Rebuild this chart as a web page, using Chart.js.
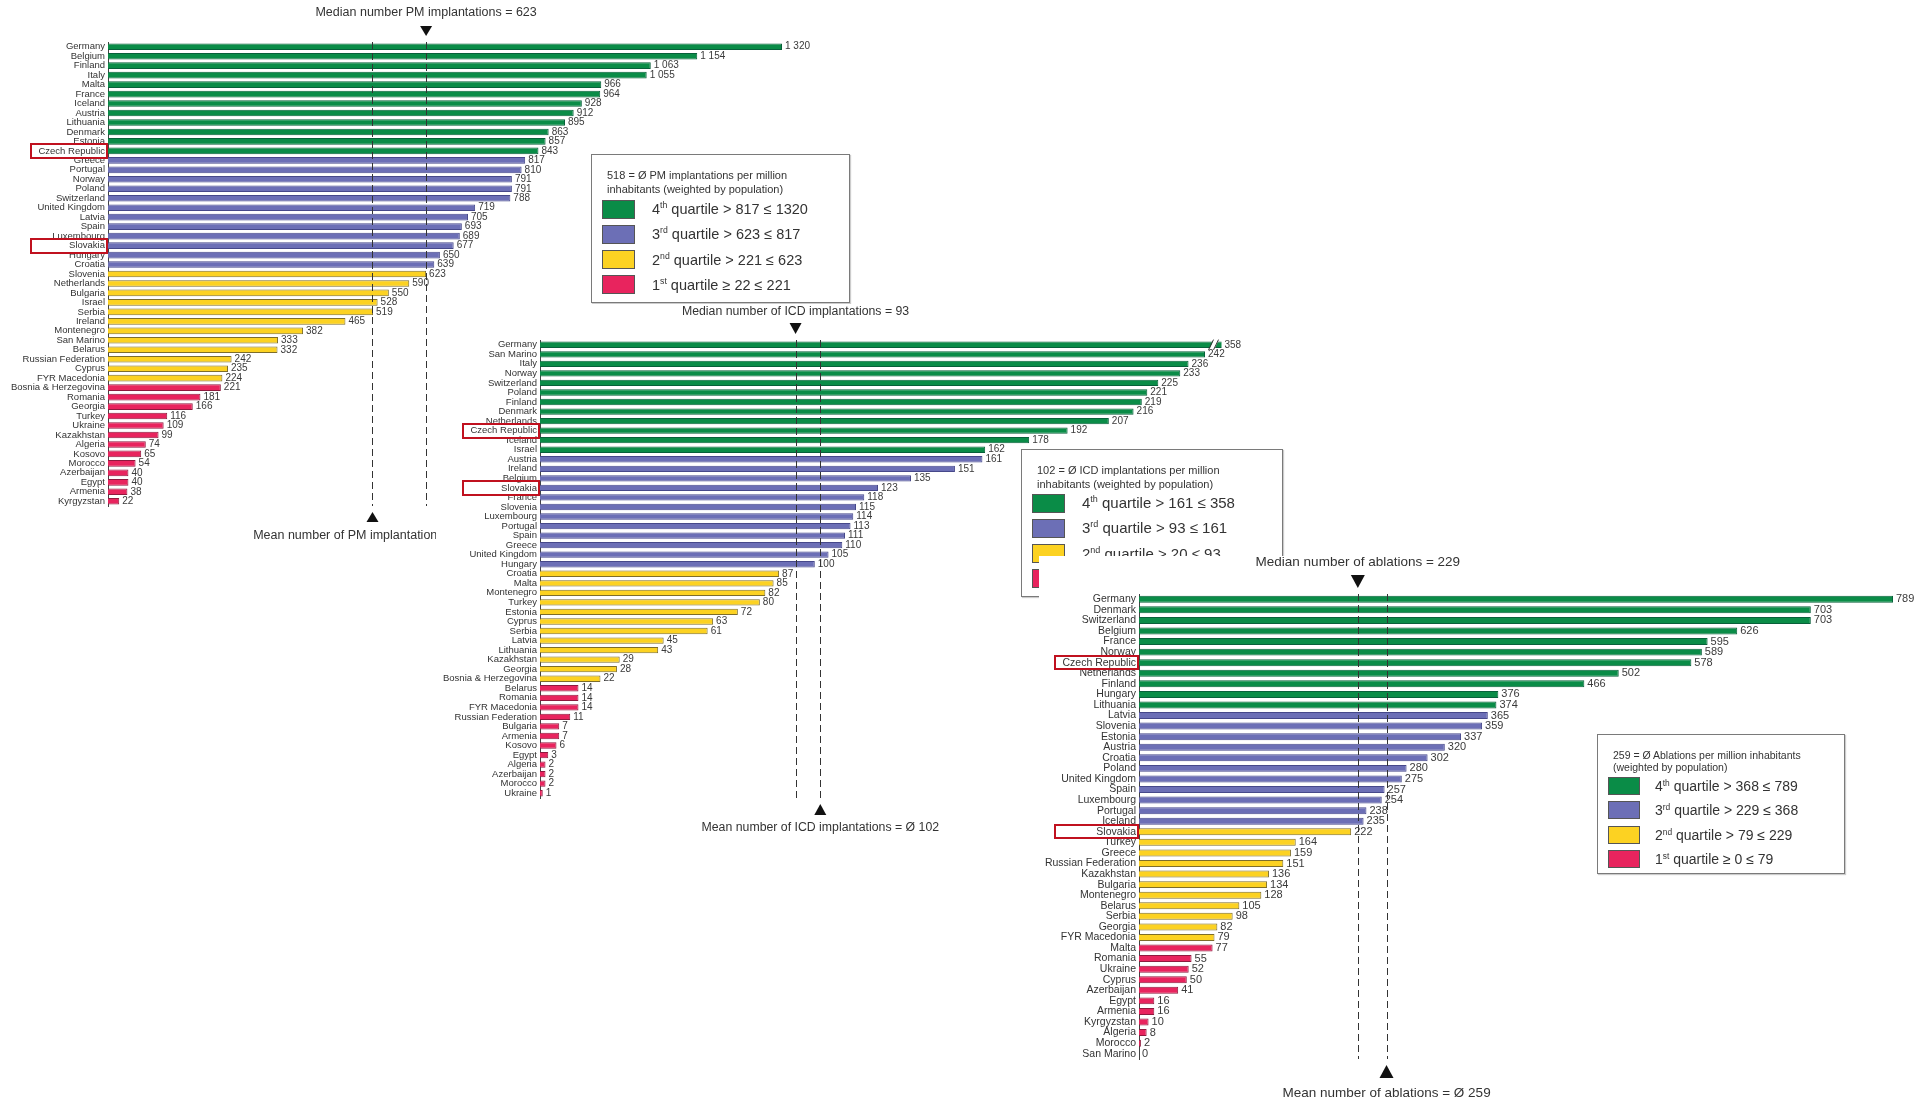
<!DOCTYPE html>
<html>
<head>
<meta charset="utf-8">
<title>PM, ICD and ablation procedures per million inhabitants</title>
<script src="https://cdn.jsdelivr.net/npm/chart.js@4.4.1/dist/chart.umd.min.js"></script>
<style>
  body { margin: 0; background: #fff; font-family: "Liberation Sans", Arial, sans-serif; }
  #stage { position: relative; width: 1915px; height: 1100px; overflow: hidden; background: #fff; }
  canvas { position: absolute; background: #fff; }
  .legend { position: absolute; background: #fff; border: 1px solid #7a7a7a; box-sizing: border-box; color: #333; box-shadow: 1px 1px 1px rgba(0,0,0,0.2); }
  .legend .hdr, .legend .txt { position: absolute; white-space: nowrap; }
  .legend .sw { position: absolute; border: 1px solid #555; box-sizing: border-box; }
  .legend sup { font-size: 0.6em; vertical-align: 0.65em; line-height: 0; }
</style>
</head>
<body>
<div id="stage">
  <canvas id="pmChart" width="840" height="550" style="left:0;top:0;z-index:1"></canvas>
  <div class="legend" id="pmLegend" style="z-index:2"></div>
  <canvas id="icdChart" width="854" height="536" style="left:436px;top:304px;z-index:3"></canvas>
  <div class="legend" id="icdLegend" style="z-index:4"></div>
  <canvas id="ablChart" width="876" height="544" style="left:1039px;top:556px;z-index:5"></canvas>
  <div class="legend" id="ablLegend" style="z-index:6"></div>
</div>
<script>
// PM implantations per million inhabitants
const pmCountries = ["Germany", "Belgium", "Finland", "Italy", "Malta", "France", "Iceland", "Austria",
  "Lithuania", "Denmark", "Estonia", "Czech Republic", "Greece", "Portugal", "Norway", "Poland",
  "Switzerland", "United Kingdom", "Latvia", "Spain", "Luxembourg", "Slovakia", "Hungary", "Croatia",
  "Slovenia", "Netherlands", "Bulgaria", "Israel", "Serbia", "Ireland", "Montenegro", "San Marino",
  "Belarus", "Russian Federation", "Cyprus", "FYR Macedonia", "Bosnia & Herzegovina", "Romania",
  "Georgia", "Turkey", "Ukraine", "Kazakhstan", "Algeria", "Kosovo", "Morocco", "Azerbaijan", "Egypt",
  "Armenia", "Kyrgyzstan"];
const pmValues = [1320, 1154, 1063, 1055, 966, 964, 928, 912, 895, 863, 857, 843, 817, 810, 791, 791,
  788, 719, 705, 693, 689, 677, 650, 639, 623, 590, 550, 528, 519, 465, 382, 333, 332, 242, 235, 224,
  221, 181, 166, 116, 109, 99, 74, 65, 54, 40, 40, 38, 22];
const pmGroups = [12, 12, 12, 13];
const pmMedian = 623;
const pmMean = 518;
const pmLegendHeader = ["518 = Ø PM implantations per million", "inhabitants (weighted by population)"];
const pmLegendRows = ["4<sup>th</sup> quartile &gt; 817 ≤ 1320", "3<sup>rd</sup> quartile &gt; 623 ≤ 817",
  "2<sup>nd</sup> quartile &gt; 221 ≤ 623", "1<sup>st</sup> quartile ≥ 22 ≤ 221"];

// ICD implantations per million inhabitants
const icdCountries = ["Germany", "San Marino", "Italy", "Norway", "Switzerland", "Poland", "Finland",
  "Denmark", "Netherlands", "Czech Republic", "Iceland", "Israel", "Austria", "Ireland", "Belgium",
  "Slovakia", "France", "Slovenia", "Luxembourg", "Portugal", "Spain", "Greece", "United Kingdom",
  "Hungary", "Croatia", "Malta", "Montenegro", "Turkey", "Estonia", "Cyprus", "Serbia", "Latvia",
  "Lithuania", "Kazakhstan", "Georgia", "Bosnia & Herzegovina", "Belarus", "Romania", "FYR Macedonia",
  "Russian Federation", "Bulgaria", "Armenia", "Kosovo", "Egypt", "Algeria", "Azerbaijan", "Morocco",
  "Ukraine"];
const icdValues = [358, 242, 236, 233, 225, 221, 219, 216, 207, 192, 178, 162, 161, 151, 135, 123, 118,
  115, 114, 113, 111, 110, 105, 100, 87, 85, 82, 80, 72, 63, 61, 45, 43, 29, 28, 22, 14, 14, 14, 11, 7,
  7, 6, 3, 2, 2, 2, 1];
const icdGroups = [12, 12, 12, 12];
const icdMedian = 93;
const icdMean = 102;
const icdAxisBreak = 248;
const icdLegendHeader = ["102 = Ø ICD implantations per million", "inhabitants (weighted by population)"];
const icdLegendRows = ["4<sup>th</sup> quartile &gt; 161 ≤ 358", "3<sup>rd</sup> quartile &gt; 93 ≤ 161",
  "2<sup>nd</sup> quartile &gt; 20 ≤ 93", "1<sup>st</sup> quartile ≥ 1 ≤ 20"];

// Ablations per million inhabitants
const ablCountries = ["Germany", "Denmark", "Switzerland", "Belgium", "France", "Norway",
  "Czech Republic", "Netherlands", "Finland", "Hungary", "Lithuania", "Latvia", "Slovenia", "Estonia",
  "Austria", "Croatia", "Poland", "United Kingdom", "Spain", "Luxembourg", "Portugal", "Iceland",
  "Slovakia", "Turkey", "Greece", "Russian Federation", "Kazakhstan", "Bulgaria", "Montenegro",
  "Belarus", "Serbia", "Georgia", "FYR Macedonia", "Malta", "Romania", "Ukraine", "Cyprus",
  "Azerbaijan", "Egypt", "Armenia", "Kyrgyzstan", "Algeria", "Morocco", "San Marino"];
const ablValues = [789, 703, 703, 626, 595, 589, 578, 502, 466, 376, 374, 365, 359, 337, 320, 302, 280,
  275, 257, 254, 238, 235, 222, 164, 159, 151, 136, 134, 128, 105, 98, 82, 79, 77, 55, 52, 50, 41, 16,
  16, 10, 8, 2, 0];
const ablGroups = [11, 11, 11, 11];
const ablMedian = 229;
const ablMean = 259;
const ablLegendHeader = ["259 = Ø Ablations per million inhabitants", "(weighted by population)"];
const ablLegendRows = ["4<sup>th</sup> quartile &gt; 368 ≤ 789", "3<sup>rd</sup> quartile &gt; 229 ≤ 368",
  "2<sup>nd</sup> quartile &gt; 79 ≤ 229", "1<sup>st</sup> quartile ≥ 0 ≤ 79"];

const highlighted = ["Czech Republic", "Slovakia"];

const FONT = '"Liberation Sans", Arial, sans-serif';
const quartileColors = ["#0a8c47", "#6c6fb6", "#fcd222", "#e8245e"];
const quartileBorders = ["#08603a", "#46488a", "#7d6d2a", "#8e1a3e"];

Chart.defaults.font.family = FONT;
Chart.defaults.color = "#333";

const formatValue = (v) => String(v).replace(/\B(?=(\d{3})+(?!\d))/g, " ");

// Draws value labels, median/mean markers and the highlight boxes
const makeOverlay = (cfg) => ({
  id: "overlays",
  afterDatasetsDraw(chart) {
    const { ctx, chartArea: area, scales: { x, y } } = chart;
    const values = chart.data.datasets[0].data;
    const meta = chart.getDatasetMeta(0);
    ctx.save();

    // value labels (and axis break for clipped bars)
    ctx.font = `${cfg.valueFont}px ${FONT}`;
    ctx.textBaseline = "middle";
    ctx.textAlign = "left";
    meta.data.forEach((bar, i) => {
      const v = values[i];
      if (v > cfg.xMax) {
        const bx = area.right - 12;
        const t = bar.y - bar.height / 2 - 1;
        const b = bar.y + bar.height / 2 + 1;
        ctx.fillStyle = "#fff";
        ctx.beginPath();
        ctx.moveTo(bx, b);
        ctx.lineTo(bx + 4, t);
        ctx.lineTo(bx + 9, t);
        ctx.lineTo(bx + 5, b);
        ctx.closePath();
        ctx.fill();
        ctx.strokeStyle = "#333";
        ctx.lineWidth = 1;
        ctx.beginPath();
        ctx.moveTo(bx - 1, b + 1);
        ctx.lineTo(bx + 4, t - 1);
        ctx.moveTo(bx + 4, b + 1);
        ctx.lineTo(bx + 9, t - 1);
        ctx.stroke();
      }
      ctx.fillStyle = "#3a3a3a";
      ctx.fillText(formatValue(v), Math.min(bar.x, area.right) + 3, bar.y);
    });

    // dashed median and mean lines
    const xMed = x.getPixelForValue(cfg.median);
    const xMean = x.getPixelForValue(cfg.mean);
    ctx.strokeStyle = "#333";
    ctx.lineWidth = 1;
    ctx.setLineDash([7, 4]);
    [xMed, xMean].forEach((px) => {
      const xx = Math.round(px) + 0.5;
      ctx.beginPath();
      ctx.moveTo(xx, area.top);
      ctx.lineTo(xx, area.bottom);
      ctx.stroke();
    });
    ctx.setLineDash([]);

    // triangles
    ctx.fillStyle = "#111";
    const w = cfg.triW / 2;
    ctx.beginPath();
    ctx.moveTo(xMed - w, area.top - 6 - cfg.triH);
    ctx.lineTo(xMed + w, area.top - 6 - cfg.triH);
    ctx.lineTo(xMed, area.top - 6);
    ctx.closePath();
    ctx.fill();
    ctx.beginPath();
    ctx.moveTo(xMean - w, area.bottom + 6 + cfg.triH);
    ctx.lineTo(xMean + w, area.bottom + 6 + cfg.triH);
    ctx.lineTo(xMean, area.bottom + 6);
    ctx.closePath();
    ctx.fill();

    // titles
    ctx.fillStyle = "#333";
    ctx.font = `${cfg.titleFont}px ${FONT}`;
    ctx.textAlign = "center";
    ctx.fillText(cfg.medianText, xMed, area.top - cfg.titleDy);
    ctx.fillText(cfg.meanText, xMean, area.bottom + cfg.meanDy);

    // red boxes around highlighted countries
    ctx.strokeStyle = "#c0111f";
    ctx.lineWidth = 2;
    highlighted.forEach((name) => {
      const i = chart.data.labels.indexOf(name);
      if (i < 0) return;
      const yc = y.getPixelForValue(i);
      ctx.strokeRect(area.left - cfg.boxW, Math.round(yc - cfg.boxH / 2), cfg.boxW - 1, cfg.boxH);
    });
    ctx.restore();
  },
});

const makeChart = (canvasId, labels, values, groups, cfg) => {
  const canvas = document.getElementById(canvasId);
  const colors = [];
  const borders = [];
  groups.forEach((n, g) => {
    for (let k = 0; k < n; k++) {
      colors.push(quartileColors[g]);
      borders.push(quartileBorders[g]);
    }
  });
  return new Chart(canvas.getContext("2d"), {
    type: "bar",
    data: {
      labels,
      datasets: [{
        data: values,
        backgroundColor: colors,
        borderColor: borders,
        borderWidth: 1,
        barPercentage: cfg.barPct,
        categoryPercentage: 1,
      }],
    },
    options: {
      indexAxis: "y",
      responsive: false,
      animation: false,
      devicePixelRatio: 1,
      layout: {
        padding: {
          left: 0,
          top: cfg.area.top,
          right: canvas.width - cfg.area.right,
          bottom: canvas.height - cfg.area.bottom,
        },
      },
      scales: {
        x: { display: false, min: 0, max: cfg.xMax },
        y: {
          grid: { display: false, drawTicks: false },
          border: { display: true, color: "#444", width: 1 },
          ticks: { autoSkip: false, padding: 3, color: "#333", font: { size: cfg.labelFont } },
          afterFit: (scale) => { scale.width = cfg.area.left; },
        },
      },
      plugins: { legend: { display: false }, tooltip: { enabled: false } },
    },
    plugins: [makeOverlay(cfg)],
  });
};

const buildLegend = (id, header, rows, g) => {
  const el = document.getElementById(id);
  Object.assign(el.style, { left: g.left + "px", top: g.top + "px", width: g.width + "px", height: g.height + "px" });
  header.forEach((line, i) => {
    const d = document.createElement("div");
    d.className = "hdr";
    d.textContent = line;
    Object.assign(d.style, {
      left: g.hdrX + "px", top: g.hdrTop + i * g.hdrLine + "px",
      fontSize: g.hdrFont + "px", lineHeight: g.hdrLine + "px",
    });
    el.appendChild(d);
  });
  rows.forEach((html, i) => {
    const yc = g.rowTop + i * g.rowStep;
    const sw = document.createElement("div");
    sw.className = "sw";
    Object.assign(sw.style, {
      left: g.swX + "px", top: yc - g.swH / 2 + "px", width: g.swW + "px", height: g.swH + "px",
      background: quartileColors[i],
    });
    el.appendChild(sw);
    const t = document.createElement("div");
    t.className = "txt";
    t.innerHTML = html;
    Object.assign(t.style, {
      left: g.txtX + "px", top: yc - 10 + "px", fontSize: g.txtFont + "px", lineHeight: "20px",
    });
    el.appendChild(t);
  });
};

makeChart("pmChart", pmCountries, pmValues, pmGroups, {
  area: { left: 108, top: 42, right: 782, bottom: 506 },
  xMax: 1320, median: pmMedian, mean: pmMean, barPct: 0.7,
  labelFont: 9.5, valueFont: 10, titleFont: 12.5, titleDy: 29, meanDy: 30,
  triW: 12, triH: 10, boxW: 77, boxH: 14,
  medianText: `Median number PM implantations = ${pmMedian}`,
  meanText: `Mean number of PM implantations = Ø ${pmMean}`,
});

makeChart("icdChart", icdCountries, icdValues, icdGroups, {
  area: { left: 104, top: 36, right: 785.5, bottom: 494 },
  xMax: icdAxisBreak, median: icdMedian, mean: icdMean, barPct: 0.66,
  labelFont: 9.5, valueFont: 10, titleFont: 12.3, titleDy: 28, meanDy: 30,
  triW: 12, triH: 11, boxW: 77, boxH: 14,
  medianText: `Median number of ICD implantations = ${icdMedian}`,
  meanText: `Mean number of ICD implantations = Ø ${icdMean}`,
});

makeChart("ablChart", ablCountries, ablValues, ablGroups, {
  area: { left: 100, top: 38, right: 854, bottom: 503 },
  xMax: 789, median: ablMedian, mean: ablMean, barPct: 0.66,
  labelFont: 10.5, valueFont: 11, titleFont: 13.5, titleDy: 32, meanDy: 34,
  triW: 14, triH: 13, boxW: 84, boxH: 13,
  medianText: `Median number of ablations = ${ablMedian}`,
  meanText: `Mean number of ablations = Ø ${ablMean}`,
});

buildLegend("pmLegend", pmLegendHeader, pmLegendRows, {
  left: 591, top: 154, width: 259, height: 149,
  hdrX: 15, hdrTop: 13, hdrLine: 14, hdrFont: 11,
  swX: 10, swW: 33, swH: 19, rowTop: 54, rowStep: 25.3, txtX: 60, txtFont: 14.5,
});
buildLegend("icdLegend", icdLegendHeader, icdLegendRows, {
  left: 1021, top: 449, width: 262, height: 148,
  hdrX: 15, hdrTop: 13, hdrLine: 14, hdrFont: 11,
  swX: 10, swW: 33, swH: 19, rowTop: 53, rowStep: 25.3, txtX: 60, txtFont: 15,
});
buildLegend("ablLegend", ablLegendHeader, ablLegendRows, {
  left: 1597, top: 734, width: 248, height: 140,
  hdrX: 15, hdrTop: 14, hdrLine: 12, hdrFont: 10.5,
  swX: 10, swW: 32, swH: 18, rowTop: 51, rowStep: 24.3, txtX: 57, txtFont: 14,
});
</script>
</body>
</html>
